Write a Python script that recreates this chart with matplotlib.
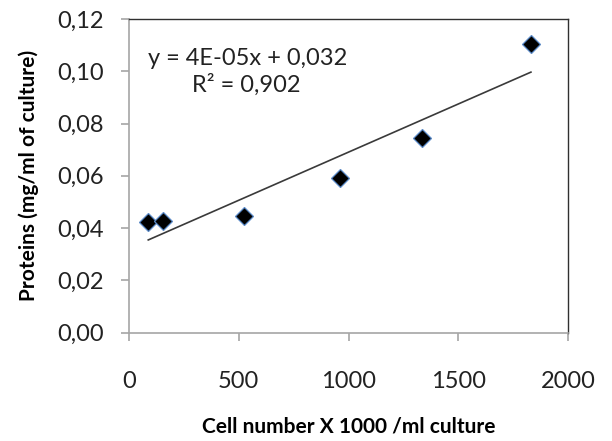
import matplotlib.pyplot as plt
import numpy as np
from matplotlib.ticker import FuncFormatter

# cell counts (x1000 per ml) and measured protein concentration
cells = [89, 157, 525, 961, 1333, 1830]
proteins = [0.0423, 0.0427, 0.0446, 0.0591, 0.0743, 0.1105]

eq_text = 'y = 4E-05x + 0,032'
r2_text = 'R² = 0,902'

x_ticks = [0, 500, 1000, 1500, 2000]
y_ticks = [0.00, 0.02, 0.04, 0.06, 0.08, 0.10, 0.12]

plt.rcParams['font.family'] = ['Lato', 'DejaVu Sans']

fig = plt.figure(figsize=(6.12, 4.41), dpi=100)
ax = fig.add_axes([0.2103, 0.246, 0.7183, 0.7109])

ax.plot(cells, proteins, linestyle='none', marker='D', markersize=9.5,
        markerfacecolor='black', markeredgecolor='#5b8ac7', markeredgewidth=0.9,
        zorder=3)

# linear trend line over the measured range
slope, intercept = np.polyfit(cells, proteins, 1)
xs = np.array([min(cells), max(cells)])
ax.plot(xs, slope * xs + intercept, color='#3a3a3a', linewidth=1.2, zorder=2)

ax.set_xlim(0, 2000)
ax.set_ylim(0, 0.12)
ax.set_xticks(x_ticks)
ax.set_yticks(y_ticks)
ax.xaxis.set_major_formatter(FuncFormatter(lambda v, p: f'{v:.0f}'))
ax.yaxis.set_major_formatter(FuncFormatter(lambda v, p: f'{v:.2f}'.replace('.', ',')))

for side in ('left', 'bottom'):
    ax.spines[side].set_color('#a6a6a6')
    ax.spines[side].set_linewidth(1.2)
for side in ('top', 'right'):
    ax.spines[side].set_color('#303030')
    ax.spines[side].set_linewidth(1.0)

ax.tick_params(axis='both', direction='out', length=6, width=1.2, color='#a6a6a6',
               labelsize=17, labelcolor='#222222')
ax.tick_params(axis='x', pad=22)
ax.tick_params(axis='y', pad=12)

ax.set_xlabel('Cell number X 1000 /ml culture', fontsize=15, fontweight='bold',
              labelpad=17)
ax.set_ylabel('Proteins (mg/ml of culture)', fontsize=15, fontweight='bold',
              labelpad=13)

ax.text(0.27, 0.875, eq_text, transform=ax.transAxes, ha='center', va='center',
        fontsize=17, color='#222222')
ax.text(0.267, 0.79, r2_text, transform=ax.transAxes, ha='center', va='center',
        fontsize=17, color='#222222')

fig.savefig('out.png', dpi=100)
